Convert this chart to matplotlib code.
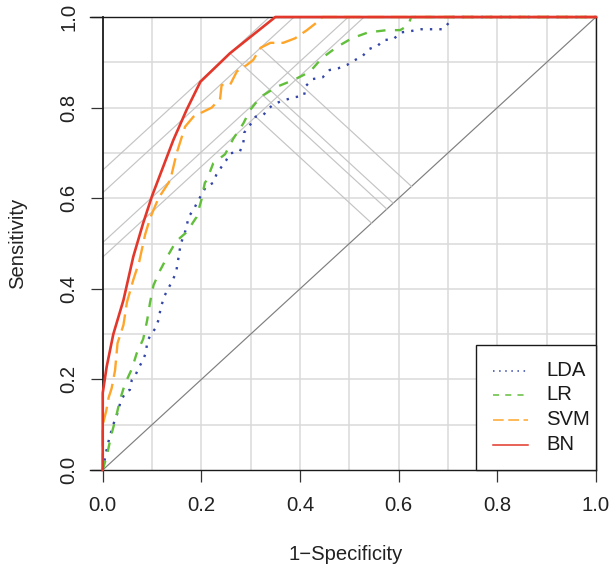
import numpy as np
import matplotlib
matplotlib.use("Agg")
import matplotlib.pyplot as plt
from matplotlib.patches import Rectangle

plt.rcParams["font.family"] = ["Liberation Sans", "DejaVu Sans"]

# ROC curves: false positive rate (1 - specificity) and true positive rate
lda_fpr = [0, 0.007, 0.011, 0.02, 0.032, 0.036, 0.047, 0.055, 0.059, 0.067, 0.074, 0.082,
           0.088, 0.09, 0.097, 0.107, 0.113, 0.118, 0.126, 0.134, 0.142, 0.149, 0.152, 0.155,
           0.158, 0.165, 0.17, 0.174, 0.184, 0.192, 0.2, 0.209, 0.224, 0.23, 0.24, 0.25,
           0.258, 0.278, 0.285, 0.287, 0.297, 0.31, 0.326, 0.336, 0.349, 0.37, 0.389, 0.408,
           0.412, 0.426, 0.446, 0.46, 0.478, 0.495, 0.508, 0.527, 0.539, 0.557, 0.569, 0.589,
           0.605, 0.625, 0.646, 0.69, 0.704, 0.71, 1.0]
lda_tpr = [0, 0.04, 0.06, 0.096, 0.132, 0.151, 0.173, 0.177, 0.199, 0.211, 0.228, 0.243,
           0.261, 0.283, 0.298, 0.313, 0.331, 0.36, 0.386, 0.403, 0.419, 0.438, 0.458, 0.478,
           0.499, 0.519, 0.537, 0.559, 0.574, 0.592, 0.607, 0.625, 0.634, 0.651, 0.668, 0.683,
           0.699, 0.703, 0.721, 0.745, 0.759, 0.78, 0.784, 0.798, 0.809, 0.817, 0.823, 0.826,
           0.848, 0.863, 0.867, 0.883, 0.887, 0.894, 0.903, 0.914, 0.929, 0.936, 0.949, 0.951,
           0.966, 0.969, 0.973, 0.973, 0.99, 1.0, 1.0]

lr_fpr = [0, 0.008, 0.018, 0.027, 0.035, 0.045, 0.059, 0.069, 0.082, 0.09, 0.096, 0.103,
          0.116, 0.133, 0.149, 0.17, 0.19, 0.2, 0.207, 0.211, 0.224, 0.248, 0.265, 0.285,
          0.299, 0.31, 0.325, 0.353, 0.387, 0.42, 0.444, 0.475, 0.505, 0.538, 0.576, 0.603,
          0.62, 0.625, 1.0]
lr_tpr = [0, 0.03, 0.08, 0.117, 0.155, 0.19, 0.223, 0.258, 0.289, 0.33, 0.37, 0.408,
          0.44, 0.475, 0.505, 0.525, 0.558, 0.596, 0.634, 0.64, 0.677, 0.697, 0.732, 0.765,
          0.795, 0.81, 0.827, 0.846, 0.861, 0.879, 0.909, 0.934, 0.953, 0.966, 0.971, 0.971,
          0.982, 1.0, 1.0]

svm_fpr = [0, 0, 0.007, 0.012, 0.018, 0.025, 0.03, 0.042, 0.049, 0.062, 0.074, 0.086,
           0.096, 0.113, 0.137, 0.15, 0.167, 0.184, 0.204, 0.221, 0.238, 0.241, 0.258, 0.272,
           0.292, 0.305, 0.32, 0.34, 0.366, 0.39, 0.414, 0.44, 0.445, 1.0]
svm_tpr = [0, 0.10, 0.13, 0.16, 0.18, 0.22, 0.28, 0.32, 0.37, 0.42, 0.46, 0.52,
           0.556, 0.60, 0.64, 0.70, 0.758, 0.78, 0.791, 0.80, 0.82, 0.85, 0.85, 0.88,
           0.894, 0.905, 0.932, 0.943, 0.943, 0.953, 0.971, 0.993, 1.0, 1.0]

bn_fpr = [0, 0, 0.008, 0.0215, 0.042, 0.062, 0.082, 0.10, 0.143, 0.17, 0.198, 0.258, 0.35, 1.0]
bn_tpr = [0, 0.17, 0.228, 0.30, 0.375, 0.471, 0.545, 0.605, 0.728, 0.795, 0.857, 0.92, 1.0, 1.0]

labels = ["LDA", "LR", "SVM", "BN"]
colors = ["#3446a8", "#62bf3c", "#ffa52a", "#e2372a"]
styles = [(0, (1, 3)), (0, (4, 4)), (0, (7, 3)), "-"]
widths = [1.7, 1.7, 1.7, 1.9]
curves = [(lda_fpr, lda_tpr), (lr_fpr, lr_tpr), (svm_fpr, svm_tpr), (bn_fpr, bn_tpr)]

ticks = [0.0, 0.2, 0.4, 0.6, 0.8, 1.0]
tick_labels = ["0.0", "0.2", "0.4", "0.6", "0.8", "1.0"]

W, H = 611, 572
FS = 14.6

fig = plt.figure(figsize=(W / 100, H / 100), dpi=100)
ax = fig.add_axes([90 / W, 102 / H, 506 / W, 453 / H])
ax.set_xlim(-0.0258, 1.0)
ax.set_ylim(0, 1)

# background grid at 0.1 steps, restricted to the unit square
grid = np.arange(0.1, 1.01, 0.1)
ax.vlines(grid, 0, 1, color="#dadada", lw=1.1, zorder=1)
ax.hlines(grid, 0, 1, color="#dadada", lw=1.1, zorder=1)

# chance diagonal
ax.plot([0, 1], [0, 1], color="#7f7f7f", lw=0.85, zorder=2, clip_on=False)

# Youden index: tangent line and perpendicular drop to the diagonal
for fpr, tpr in curves:
    f = np.asarray(fpr)
    t = np.asarray(tpr)
    i = int(np.argmax(t - f))
    j = t[i] - f[i]
    ax.plot([0, 1 - j], [j, 1], color="#c4c4c4", lw=0.85, zorder=2)
    m = (f[i] + t[i]) / 2
    ax.plot([f[i], m], [t[i], m], color="#c4c4c4", lw=0.85, zorder=2)

for (fpr, tpr), c, ls, lw in zip(curves, colors, styles, widths):
    ax.plot(fpr, tpr, color=c, ls=ls, lw=lw, zorder=3, clip_on=False)

# axes frame
for side in ["top", "bottom", "right"]:
    ax.spines[side].set_linewidth(1.0)
    ax.spines[side].set_color("#1a1a1a")
ax.spines["left"].set_position(("data", 0))
ax.spines["left"].set_linewidth(1.3)
ax.spines["left"].set_color("#1a1a1a")
ax.spines["top"].set_zorder(2.5)

ax.set_xticks(ticks)
ax.set_xticklabels(tick_labels)
ax.set_yticks(ticks)
ax.set_yticklabels(tick_labels, rotation=90, va="center")
ax.tick_params(axis="both", length=8.8, width=0.9, color="#333333",
               labelsize=FS, labelcolor="#222222")
ax.tick_params(axis="x", pad=10)
ax.tick_params(axis="y", pad=9)

fig.text(18 / W, 1 - 243 / H, "Sensitivity", rotation=90, ha="center", va="center",
         fontsize=FS, color="#222222")
fig.text(346 / W, 1 - 554 / H, "1\u2212Specificity", ha="center", va="center",
         fontsize=FS, color="#222222")

# legend box in the lower right corner, laid out in figure pixels
def px(x, y):
    return x / W, 1 - y / H

box_x0, box_x1, box_y0, box_y1 = 476, 596, 345, 470
bx, by = px(box_x0, box_y1)
fig.patches.append(Rectangle((bx, by), (box_x1 - box_x0) / W, (box_y1 - box_y0) / H,
                             transform=fig.transFigure, facecolor="white",
                             edgecolor="#1a1a1a", lw=1.0, zorder=5))
row_y = [370.5, 394.5, 419.5, 444.5]
for lab, c, ls, yy in zip(labels, colors, styles, row_y):
    x0, y0 = px(493, yy)
    x1, _ = px(528, yy)
    fig.add_artist(plt.Line2D([x0, x1], [y0, y0], transform=fig.transFigure,
                              color=c, ls=ls, lw=1.1, zorder=6))
    tx, ty = px(546, yy)
    fig.text(tx, ty, lab, ha="left", va="center", fontsize=FS, color="#1a1a1a", zorder=6)

fig.savefig("out.png", dpi=100)
